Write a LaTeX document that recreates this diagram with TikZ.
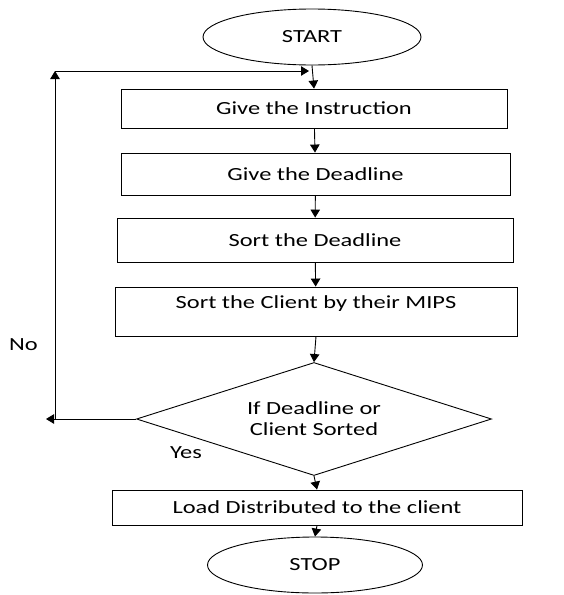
\documentclass[tikz,border=0pt]{standalone}
\usepackage{fontspec}
\setmainfont{Carlito}[FakeStretch=1.32]
\usetikzlibrary{shapes.geometric,arrows.meta}
\begin{document}
\begin{tikzpicture}[x=1pt,y=-1pt,line width=0.9pt,>={Triangle[length=8pt,width=9.5pt]},
   font=\fontsize{18.5}{21}\selectfont]
   \useasboundingbox (0,0) rectangle (564,595);
   \draw (312,37) node[ellipse, draw, inner sep=0pt, minimum height=56pt, minimum width=218pt] (start) {START};
   \draw (314,108.5) node[rectangle, draw, inner sep=0pt, minimum height=39pt, minimum width=386pt] (instr) {Give the Instruction};
   \draw (315.5,174) node[rectangle, draw, inner sep=0pt, minimum height=42pt, minimum width=389pt] (dline) {Give the Deadline};
   \draw (315,240) node[rectangle, draw, inner sep=0pt, minimum height=44pt, minimum width=396pt] (sortd) {Sort the Deadline};
   \draw (316,311.5) node[rectangle, draw, inner sep=0pt, text depth=18pt, minimum height=49pt, minimum width=402pt] (sortc) {Sort the Client by their MIPS};
   \draw (314,419) node[diamond, draw, inner sep=0pt, aspect=3.14, align=center, minimum height=113pt, minimum width=355pt] (check) {If Deadline or\\Client Sorted};
   \draw (317,507.5) node[rectangle, draw, inner sep=0pt, minimum height=35pt, minimum width=410pt] (load) {Load Distributed to the client};
   \draw (315,565) node[ellipse, draw, inner sep=0pt, minimum height=56pt, minimum width=215pt] (stop) {STOP};
   \draw (23.5,345) node (no) {No};
   \draw (186,453) node (yes) {Yes};
   % loop back
   \coordinate (noend) at (46,419);
   \coordinate (nolow) at (55,419);
   \coordinate (nohigh) at (55,71);
   \coordinate (join) at (309,71);
   \draw[->] (check.west) -- (noend);
   \draw[->] (nolow) -- (nohigh);
   \draw[->] (nohigh) -- (join);
   % main flow
   \draw[->] (start.south) -- (instr.north);
   \draw[->] (instr) -- (dline);
   \draw[->] (dline) -- (sortd);
   \draw[->] (sortd) -- (sortc);
   \draw[->] (sortc.south) -- (check.north);
   \draw[->] (check.south) -- (load.north);
   \draw[->] (load.south) -- (stop.north);
  \end{tikzpicture}
\end{document}
